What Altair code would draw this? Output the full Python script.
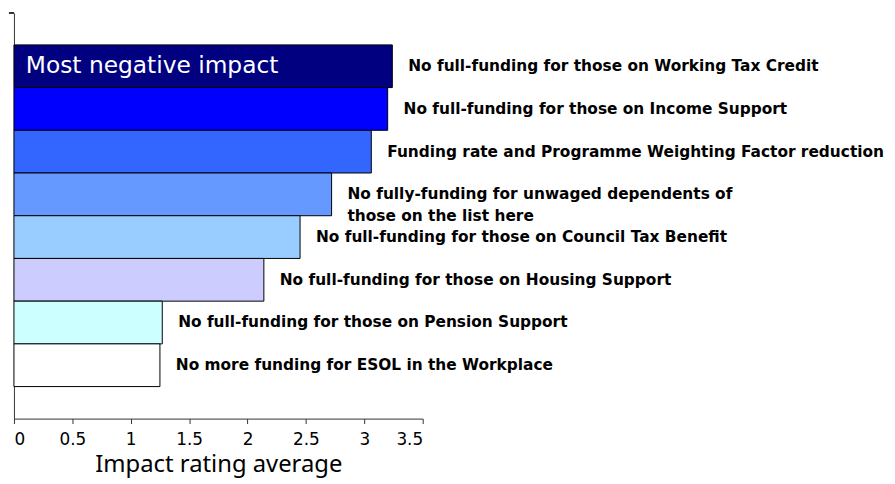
import altair as alt
import pandas as pd

categories = [
    "No full-funding for those on Working Tax Credit",
    "No full-funding for those on Income Support",
    "Funding rate and Programme Weighting Factor reduction",
    "No fully-funding for unwaged dependents of\nthose on the list here",
    "No full-funding for those on Council Tax Benefit",
    "No full-funding for those on Housing Support",
    "No full-funding for those on Pension Support",
    "No more funding for ESOL in the Workplace",
]
values = [3.24, 3.20, 3.06, 2.72, 2.45, 2.14, 1.27, 1.25]
colors = ["#000080", "#0000FF", "#3366FF", "#6699FF", "#99CCFF", "#CCCCFF", "#CCFFFF", "#FFFFFF"]
x_ticks = [0, 0.5, 1, 1.5, 2, 2.5, 3, 3.5]
callout_text = ["Most negative impact"]

df = pd.DataFrame({"cat": categories, "value": values, "color": colors})
callout = pd.DataFrame({"cat": [categories[0]], "value": [0], "text": callout_text})

FONT = "Noto Sans"
LFONT = "DejaVu Sans"

y_enc = alt.Y(
    "cat:N",
    sort=categories,
    scale=alt.Scale(paddingInner=0, paddingOuter=0.75),
    axis=alt.Axis(labels=False, ticks=False, title=None, domainColor="#333333", grid=False),
)
x_enc = alt.X(
    "value:Q",
    scale=alt.Scale(domain=[0, 3.5], nice=False),
    axis=alt.Axis(
        values=x_ticks,
        format="~g",
        title="Impact rating average",
        titleFont=FONT,
        titleFontSize=24,
        titleFontWeight="normal",
        titleColor="#000000",
        titlePadding=5,
        labelFont=LFONT,
        labelFontSize=17,
        labelColor="#000000",
        labelPadding=8,
        tickSize=5,
        tickColor="#333333",
        domainColor="#333333",
        grid=False,
    ),
)

bars = alt.Chart(df).mark_bar(stroke="#000000", strokeWidth=1).encode(
    x=x_enc,
    y=y_enc,
    fill=alt.Fill("color:N", scale=None, legend=None),
)

labels = alt.Chart(df).mark_text(
    align="left", baseline="middle", dx=16, font=LFONT, fontWeight="bold",
    fontSize=15.5, color="#000000", lineBreak="\n", lineHeight=22,
).encode(
    x="value:Q",
    y=alt.Y("cat:N", sort=categories),
    text="cat:N",
)

callout_text_mark = alt.Chart(callout).mark_text(
    align="left", baseline="middle", dx=12, dy=0, font=LFONT, fontSize=23.5, color="#FFFFFF",
).encode(
    x="value:Q",
    y=alt.Y("cat:N", sort=categories),
    text="text:N",
)

top_tick = alt.Chart(df).mark_rule(color="#333333", strokeWidth=1).encode(
    x=alt.value(-5), x2=alt.value(0), y=alt.value(0)
)

chart = alt.layer(bars, labels, callout_text_mark, top_tick).properties(
    width=412,
    height=409,
    padding={"left": 6, "top": 3, "right": 468, "bottom": 60},
    autosize=alt.AutoSizeParams(type="none"),
    background="#FFFFFF",
).configure_view(stroke=None)

chart.save("out.html", embed_options={"renderer": "svg", "actions": False})
